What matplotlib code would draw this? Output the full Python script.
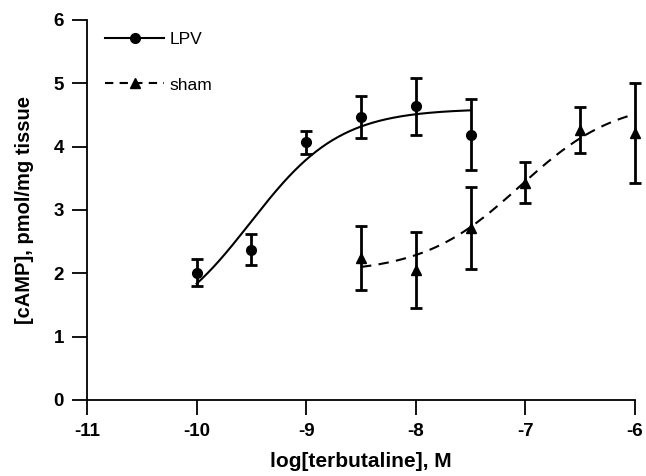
import matplotlib
matplotlib.use("Agg")
import matplotlib.pyplot as plt
import numpy as np

plt.rcParams['font.family'] = ['Liberation Sans', 'DejaVu Sans']
plt.rcParams['axes.unicode_minus'] = False

# data
lpv_x = [-10, -9.5, -9, -8.5, -8, -7.5]
lpv_y = [2.01, 2.37, 4.07, 4.47, 4.64, 4.19]
lpv_err = [0.21, 0.245, 0.18, 0.33, 0.45, 0.56]

sham_x = [-8.5, -8, -7.5, -7, -6.5, -6]
sham_y = [2.24, 2.06, 2.72, 3.43, 4.26, 4.21]
sham_err = [0.5, 0.6, 0.65, 0.32, 0.36, 0.79]

# sigmoid fit parameters (bottom, top, logEC50, hill), estimated from drawn curves
lpv_fit = (1.0, 4.6, -9.51, 1.06)
sham_fit = (2.0, 4.75, -7.05, 0.98)

x_ticks = [-11, -10, -9, -8, -7, -6]
y_ticks = [0, 1, 2, 3, 4, 5, 6]


def logistic(x, p):
    b, t, c, h = p
    return b + (t - b) / (1 + 10 ** ((c - x) * h))


fig = plt.figure(figsize=(6.46, 4.76), dpi=100)
ax = fig.add_axes([0.1347, 0.1597, 0.8483, 0.7983])

xs = np.linspace(lpv_x[0], lpv_x[-1], 200)
ax.plot(xs, logistic(xs, lpv_fit), color='black', lw=1.5, zorder=2)
xs2 = np.linspace(sham_x[0], sham_x[-1], 200)
ax.plot(xs2, logistic(xs2, sham_fit), color='black', lw=1.5,
        linestyle=(0, (5, 3.5)), zorder=2)

for x, y, e, m, s in [(lpv_x, lpv_y, lpv_err, 'o', 7), (sham_x, sham_y, sham_err, '^', 7.5)]:
    eb = ax.errorbar(x, y, yerr=e, fmt=m, color='black', ms=s,
                     capsize=4.5, capthick=2, elinewidth=2, zorder=3)
    for art in eb.lines[1] + eb.lines[2] + (eb.lines[0],):
        art.set_clip_on(False)

# legend handles
h1, = ax.plot([], [], color='black', lw=1.5, marker='o', ms=7)
h2, = ax.plot([], [], color='black', lw=1.5, marker='^', ms=7.5,
              linestyle=(0, (4, 3)))
ax.legend([h1, h2], ['LPV', 'sham'], loc='upper left', frameon=False,
          handlelength=3.4, labelspacing=1.75, fontsize=12.5,
          bbox_to_anchor=(0.005, 1.01), handletextpad=0.3)

ax.set_xlim(-11, -6)
ax.set_ylim(0, 6)
ax.set_xticks(x_ticks)
ax.set_yticks(y_ticks)
ax.tick_params(direction='out', length=10.5, width=1.3, labelsize=13.5, pad=6)
for lab in ax.get_xticklabels() + ax.get_yticklabels():
    lab.set_fontweight('bold')
ax.spines['top'].set_visible(False)
ax.spines['right'].set_visible(False)
ax.spines['left'].set_linewidth(1.3)
ax.spines['bottom'].set_linewidth(1.3)

ax.set_xlabel('log[terbutaline], M', fontsize=15, fontweight='bold', labelpad=9)
ax.set_ylabel('[cAMP], pmol/mg tissue', fontsize=14.5, fontweight='bold', labelpad=14)

fig.savefig('out.png', dpi=100)
